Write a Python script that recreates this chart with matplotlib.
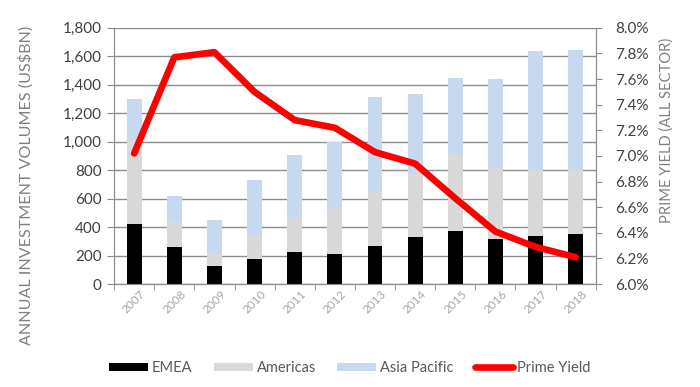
import matplotlib
matplotlib.use("Agg")
import matplotlib.pyplot as plt
import numpy as np
from matplotlib.ticker import FuncFormatter, MultipleLocator

years = ["2007", "2008", "2009", "2010", "2011", "2012", "2013", "2014", "2015", "2016", "2017", "2018"]
emea = [425, 258, 130, 178, 222, 210, 270, 328, 373, 316, 338, 352]
americas = [585, 180, 80, 167, 250, 318, 385, 443, 543, 497, 466, 452]
asia_pacific = [290, 180, 240, 386, 435, 472, 658, 565, 535, 626, 830, 842]
prime_yield = [7.02, 7.77, 7.81, 7.50, 7.28, 7.22, 7.03, 6.94, 6.67, 6.41, 6.29, 6.21]

plt.rcParams['font.family'] = ['Lato', 'DejaVu Sans']

fig = plt.figure(figsize=(7.0, 3.87), dpi=100)
ax = fig.add_axes([0.163, 0.266, 0.688, 0.662])
ax2 = ax.twinx()

x = np.arange(len(years))
w = 0.37
c_emea = "#000000"
c_am = "#d9d9d9"
c_ap = "#c6d9f1"
b1 = ax.bar(x, emea, w, color=c_emea, label="EMEA", zorder=3)
b2 = ax.bar(x, americas, w, bottom=emea, color=c_am, label="Americas", zorder=3)
bot = np.array(emea) + np.array(americas)
b3 = ax.bar(x, asia_pacific, w, bottom=bot, color=c_ap, label="Asia Pacific", zorder=3)

l1, = ax2.plot(x, prime_yield, color="#ff0000", lw=4.8, solid_capstyle="round", solid_joinstyle="round", label="Prime Yield")

ax.set_xlim(-0.5, len(years) - 0.5)
ax.set_ylim(0, 1800)
ax.yaxis.set_major_locator(MultipleLocator(200))
ax.yaxis.set_major_formatter(FuncFormatter(lambda v, p: f"{int(v):,}"))
ax2.set_ylim(6.0, 8.0)
ax2.yaxis.set_major_locator(MultipleLocator(0.2))
ax2.yaxis.set_major_formatter(FuncFormatter(lambda v, p: f"{v:.1f}%"))

ax.grid(axis="y", color="#8c8c8c", lw=1.0, zorder=0)
ax.set_axisbelow(True)

ax.set_xticks(x)
ax.set_xticklabels(years, rotation=45, ha="center", color="#a6a6a6", fontsize=8.5)
ax.set_xticks(np.arange(-0.5, len(years), 1), minor=True)
ax.tick_params(axis="x", which="major", length=0, pad=3)
ax.tick_params(axis="x", which="minor", length=4, color="#8c8c8c", direction="out")

ax.tick_params(axis="y", length=5, color="#8c8c8c", labelsize=11, labelcolor="#404040", pad=4)
ax2.tick_params(axis="y", length=4, color="#8c8c8c", labelsize=11, labelcolor="#404040", pad=10)

for a in (ax, ax2):
    a.spines["top"].set_visible(False)
    for s in ("left", "right", "bottom"):
        a.spines[s].set_color("#8c8c8c")

fig.text(26 / 700, 1 - 185 / 387, "ANNUAL INVESTMENT VOLUMES (US$BN)", rotation=90,
         ha="center", va="center", color="#808080", fontsize=11.6)
fig.text(667 / 700, 1 - 130 / 387, "PRIME YIELD (ALL SECTOR)", rotation=90,
         ha="center", va="center", color="#808080", fontsize=10.6)

fig.legend(handles=[b1, b2, b3, l1], labels=["EMEA", "Americas", "Asia Pacific", "Prime Yield"],
           loc="center", bbox_to_anchor=(0.5, 0.049), ncol=4, frameon=False,
           handlelength=2.67, handleheight=0.5, columnspacing=1.45, handletextpad=0.27,
           fontsize=10.5, labelcolor="#595959")

fig.savefig("out.png", dpi=100)
